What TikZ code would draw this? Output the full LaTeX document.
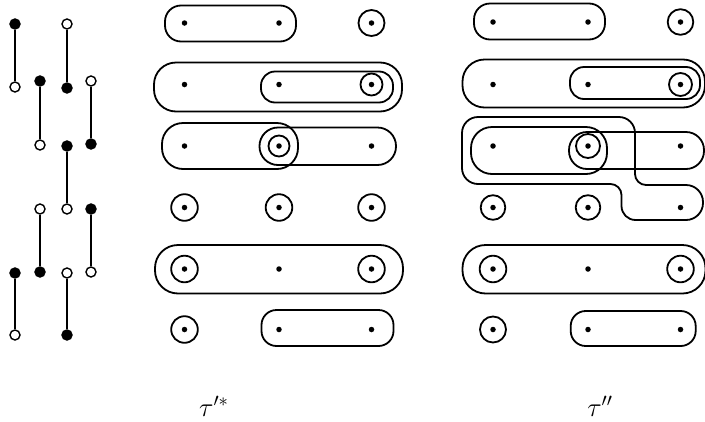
\documentclass[tikz,border=0pt]{standalone}
\begin{document}
\begin{tikzpicture}[x=1pt,y=-1pt,
  dotn/.style={circle,fill,inner sep=0pt,minimum size=5.5pt},
  fdot/.style={circle,fill=black,draw,inner sep=0pt,minimum size=10pt,line width=1.4pt},
  odot/.style={circle,fill=white,draw,inner sep=0pt,minimum size=10pt,line width=1.4pt},
  seg/.style={line width=2pt},
  blob/.style={line width=1.8pt},
  lab/.style={font=\LARGE,scale=1.55,transform shape}]
\useasboundingbox (0,0) rectangle (705,421);
\newcommand\pillbox[5]{\draw[blob,rounded corners=#5] (#1,#2) rectangle (#3,#4);}
\newcommand\ringat[2]{\draw[blob] (#1) circle[radius=#2];}

% ---------- left panel: segments ----------
\node[fdot] (L1a) at (15,24) {};
\node[odot] (L1b) at (15,87) {};
\node[fdot] (L1c) at (15,273) {};
\node[odot] (L1d) at (15,335) {};
\node[fdot] (L2a) at (40,81) {};
\node[odot] (L2b) at (40,145) {};
\node[odot] (L2c) at (40,209) {};
\node[fdot] (L2d) at (40,272) {};
\node[odot] (L3a) at (67,24) {};
\node[fdot] (L3b) at (67,88) {};
\node[fdot] (L3c) at (67,146) {};
\node[odot] (L3d) at (67,209) {};
\node[odot] (L3e) at (67,273) {};
\node[fdot] (L3f) at (67,335) {};
\node[odot] (L4a) at (91,81) {};
\node[fdot] (L4b) at (91,144) {};
\node[fdot] (L4c) at (91,209) {};
\node[odot] (L4d) at (91,272) {};
\foreach \a/\b in {L1a/L1b,L1c/L1d,L2a/L2b,L2c/L2d,L3a/L3b,L3c/L3d,L3e/L3f,L4a/L4b,L4c/L4d}
  \draw[seg] (\a) -- (\b);

% ---------- middle panel ----------
\foreach \r/\y in {1/23,2/84.5,3/146,4/207.5,5/269,6/329.5}{
  \node[dotn] (m\r a) at (184.5,\y) {};
  \node[dotn] (m\r b) at (279,\y) {};
  \node[dotn] (m\r c) at (371.5,\y) {};
}
\pillbox{165}{5.5}{296}{41.5}{16}
\ringat{m1c}{13}
\pillbox{154}{62.5}{402}{111.5}{22}
\pillbox{261}{71.5}{393}{102.5}{14}
\ringat{m2c}{11}
\pillbox{162}{123}{298}{169}{21}
\pillbox{259.5}{127.5}{396}{165}{18.5}
\ringat{m3b}{10.5}
\ringat{m4a}{13.3}
\ringat{m4b}{13.3}
\ringat{m4c}{13.3}
\pillbox{155}{245}{403}{293.5}{23}
\ringat{m5a}{13.3}
\ringat{m5c}{13.3}
\ringat{m6a}{13.3}
\pillbox{261.5}{310}{393.5}{346}{15}

% ---------- right panel ----------
\foreach \r/\y in {1/22,2/84.5,3/146,4/207.5,5/269,6/329.5}{
  \node[dotn] (r\r a) at (493,\y) {};
  \node[dotn] (r\r b) at (588,\y) {};
  \node[dotn] (r\r c) at (680.5,\y) {};
}
\pillbox{474}{3.5}{605}{39.5}{16}
\ringat{r1c}{12.8}
\pillbox{462.5}{59.5}{705}{107.5}{22}
\pillbox{570}{67}{700}{99}{14}
\ringat{r2c}{11.5}
\pillbox{471}{127}{607}{174}{21}
\pillbox{569}{132}{704}{169}{18}
\ringat{r3b}{12}
\draw[blob] (462,150) [rounded corners=16] -- (462,117) -- (635,117)
  [rounded corners=11] -- (635,185) [rounded corners=17] -- (703,185) -- (703,220)
  [rounded corners=14] -- (621.5,220) [rounded corners=11] -- (621.5,184)
  [rounded corners=16] -- (462,184) -- cycle;
\ringat{r4a}{12.3}
\ringat{r4b}{12.3}
\pillbox{462.5}{245}{705.5}{293.5}{23}
\ringat{r5a}{13.3}
\ringat{r5c}{13.3}
\ringat{r6a}{13}
\pillbox{570.7}{311}{695.7}{346}{15}

% ---------- labels ----------
\node[lab] (t1) at (214,406) {$\tau'^{*}$};
\node[lab] (t2) at (600,406) {$\tau''$};
\end{tikzpicture}
\end{document}
